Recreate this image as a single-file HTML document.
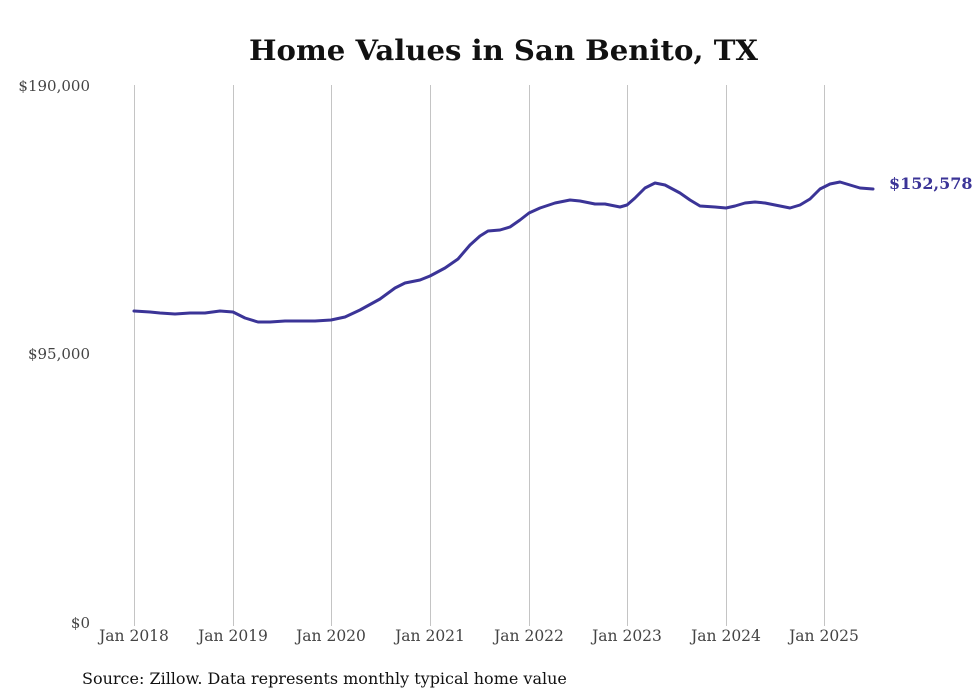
<!DOCTYPE html>
<html><head><meta charset="utf-8"><style>
body{margin:0;background:#fff;}
svg{display:block;font-family:"DejaVu Serif","Liberation Serif",serif;}
</style></head><body>
<svg width="980" height="699" viewBox="0 0 980 699">
<rect width="980" height="699" fill="#fff"/>
<text x="249" y="60" textLength="509" lengthAdjust="spacingAndGlyphs" font-size="28" font-weight="bold" fill="#111">Home Values in San Benito, TX</text>
<g stroke="#c4c4c4" stroke-width="1">
<line x1="134.5" y1="85" x2="134.5" y2="626"/>
<line x1="233.5" y1="85" x2="233.5" y2="626"/>
<line x1="331.5" y1="85" x2="331.5" y2="626"/>
<line x1="430.5" y1="85" x2="430.5" y2="626"/>
<line x1="529.5" y1="85" x2="529.5" y2="626"/>
<line x1="627.5" y1="85" x2="627.5" y2="626"/>
<line x1="726.5" y1="85" x2="726.5" y2="626"/>
<line x1="824.5" y1="85" x2="824.5" y2="626"/>
</g>
<g font-size="15" fill="#444" text-anchor="end">
<text x="90" y="91">$190,000</text>
<text x="90" y="359">$95,000</text>
<text x="90" y="628">$0</text>
</g>
<g font-size="15.5" fill="#444" text-anchor="middle">
<text x="134" y="641">Jan 2018</text>
<text x="233" y="641">Jan 2019</text>
<text x="331" y="641">Jan 2020</text>
<text x="430" y="641">Jan 2021</text>
<text x="529" y="641">Jan 2022</text>
<text x="627" y="641">Jan 2023</text>
<text x="726" y="641">Jan 2024</text>
<text x="824" y="641">Jan 2025</text>
</g>
<polyline fill="none" stroke="#3b3497" stroke-width="3" stroke-linejoin="round" stroke-linecap="round"
points="134,311 150,312 160,313 175,314 190,313 205,313 220,311 233,312 245,318 258,322 270,322 285,321 300,321 315,321 331,320 345,317 360,310 380,299 395,288 405,283 420,280 430,276 445,268 458,259 470,245 480,236 488,231 500,230 510,227 520,220 529,213 540,208 555,203 570,200 580,201 595,204 605,204 620,207 627,205 635,198 645,188 655,183 665,185 680,193 690,200 700,206 715,207 726,208 735,206 745,203 755,202 765,203 775,205 790,208 800,205 810,199 820,189 830,184 840,182 850,185 860,188 873,189"/>
<text x="889" y="189" font-size="16" font-weight="bold" fill="#3b3497">$152,578</text>
<text x="82" y="684" font-size="16" fill="#111">Source: Zillow. Data represents monthly typical home value</text>
</svg>
</body></html>
